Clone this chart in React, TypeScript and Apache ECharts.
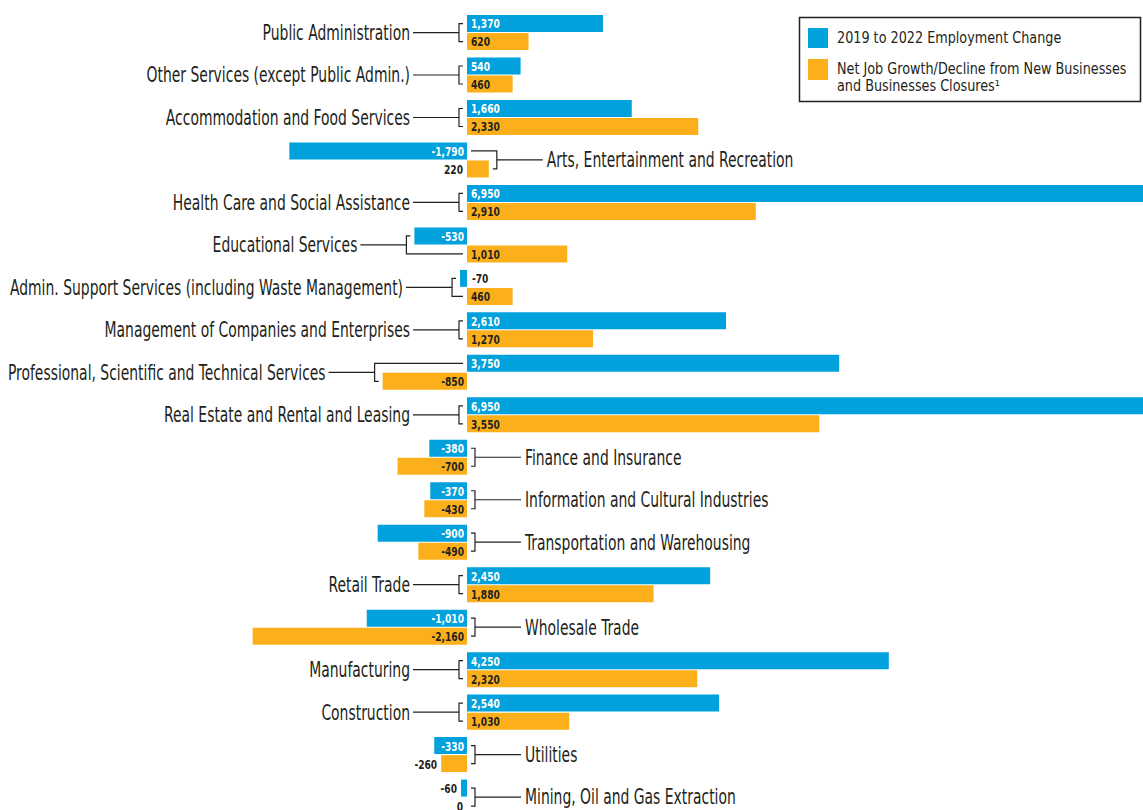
import React, { useEffect, useRef } from 'react';
import * as echarts from 'echarts';

const categories = [
  'Public Administration',
  'Other Services (except Public Admin.)',
  'Accommodation and Food Services',
  'Arts, Entertainment and Recreation',
  'Health Care and Social Assistance',
  'Educational Services',
  'Admin. Support Services (including Waste Management)',
  'Management of Companies and Enterprises',
  'Professional, Scientific and Technical Services',
  'Real Estate and Rental and Leasing',
  'Finance and Insurance',
  'Information and Cultural Industries',
  'Transportation and Warehousing',
  'Retail Trade',
  'Wholesale Trade',
  'Manufacturing',
  'Construction',
  'Utilities',
  'Mining, Oil and Gas Extraction',
];

const employmentChange = [1370, 540, 1660, -1790, 6950, -530, -70, 2610, 3750, 6950, -380, -370, -900, 2450, -1010, 4250, 2540, -330, -60];
const netJobGrowth = [620, 460, 2330, 220, 2910, 1010, 460, 1270, -850, 3550, -700, -430, -490, 1880, -2160, 2320, 1030, -260, 0];

const seriesNames = [
  '2019 to 2022 Employment Change',
  'Net Job Growth/Decline from New Businesses and Businesses Closures¹',
];
const legendLines = [
  ['2019 to 2022 Employment Change'],
  ['Net Job Growth/Decline from New Businesses', 'and Businesses Closures¹'],
];

const BLUE = '#00a1dc';
const ORANGE = '#fbb01b';
const INK = '#231f20';
const FONT = "'Liberation Sans Narrow', 'DejaVu Sans Condensed', 'Liberation Sans', sans-serif";
const LABEL_SIZE = 21;
const LABEL_SCALE = 0.737;
const VALUE_SIZE = 13;
const VALUE_SCALE = 0.78;
const LEGEND_SIZE = 16;
const LEGEND_SCALE = 0.89;

const fmt = (v: number) => v.toLocaleString('en-US');

export default function App() {
  const ref = useRef<HTMLDivElement>(null);
  useEffect(() => {
    if (!ref.current) return;
    const chart = echarts.init(ref.current, undefined, { renderer: 'svg' });

    const renderItem = (params: any, api: any) => {
      const i = api.value(0);
      const b = api.value(1);
      const o = api.value(2);
      const p0 = api.coord([0, i]);
      const x0 = p0[0];
      const yc = p0[1];
      const xb = api.coord([b, i])[0];
      const xo = api.coord([o, i])[0];
      const yb = yc - 9;
      const yo = yc + 9;
      const right = b + o < 0;
      const children: any[] = [];
      const lineStyle = { stroke: INK, lineWidth: 1.2, fill: null };

      if (!right) {
        const bx = Math.min(x0, xb, xo) - 8;
        const tb = Math.max(Math.min(x0, xb) - 4, bx + 3);
        const to = Math.max(Math.min(x0, xo) - 4, bx + 3);
        children.push({ type: 'polyline', shape: { points: [[tb, yb], [bx, yb], [bx, yo], [to, yo]] }, style: lineStyle });
        children.push({ type: 'line', shape: { x1: bx - 46, y1: yc, x2: bx, y2: yc }, style: lineStyle });
        children.push({
          type: 'text', x: bx - 49, y: yc, scaleX: LABEL_SCALE, scaleY: 1,
          style: { text: categories[i], x: 0, y: 0, fill: INK, fontSize: LABEL_SIZE, fontFamily: FONT, align: 'right', verticalAlign: 'middle' },
        });
      } else {
        const bx = Math.max(x0, xb, xo) + 8;
        const tb = Math.min(Math.max(x0, xb) + 4, bx - 3);
        const to = Math.min(Math.max(x0, xo) + 4, bx - 3);
        children.push({ type: 'polyline', shape: { points: [[tb, yb], [bx, yb], [bx, yo], [to, yo]] }, style: lineStyle });
        children.push({ type: 'line', shape: { x1: bx, y1: yc, x2: bx + 46, y2: yc }, style: lineStyle });
        children.push({
          type: 'text', x: bx + 50, y: yc, scaleX: LABEL_SCALE, scaleY: 1,
          style: { text: categories[i], x: 0, y: 0, fill: INK, fontSize: LABEL_SIZE, fontFamily: FONT, align: 'left', verticalAlign: 'middle' },
        });
      }

      const valueLabel = (v: number, xe: number, y: number, isBlue: boolean) => {
        const w = Math.abs(xe - x0);
        let x: number;
        let align: string;
        let fill = INK;
        if (w >= 30) {
          if (v >= 0) { x = x0 + 4; align = 'left'; } else { x = x0 - 3; align = 'right'; }
          fill = isBlue ? '#ffffff' : INK;
        } else if (right) {
          x = Math.min(x0, xe) - 4; align = 'right';
        } else {
          x = Math.max(x0, xe) + 5; align = 'left';
        }
        return {
          type: 'text', x, y: y + 0.5, scaleX: VALUE_SCALE, scaleY: 1,
          style: { text: fmt(v), x: 0, y: 0, fill, fontSize: VALUE_SIZE, fontWeight: 'bold', fontFamily: FONT, align, verticalAlign: 'middle' },
        };
      };
      children.push(valueLabel(b, xb, yb, true));
      children.push(valueLabel(o, xo, yo, false));
      return { type: 'group', children };
    };

    const legendGraphic: any[] = [
      { type: 'rect', shape: { x: 799.5, y: 17.5, width: 341, height: 84 }, style: { fill: '#fff', stroke: INK, lineWidth: 1.5 } },
      { type: 'rect', shape: { x: 808, y: 28, width: 20, height: 20 }, style: { fill: BLUE } },
      { type: 'rect', shape: { x: 808, y: 59, width: 20, height: 21 }, style: { fill: ORANGE } },
      {
        type: 'text', x: 837, y: 38, scaleX: LEGEND_SCALE, scaleY: 1,
        style: { text: legendLines[0].join('\n'), fill: INK, fontSize: LEGEND_SIZE, fontFamily: FONT, align: 'left', verticalAlign: 'middle' },
      },
      {
        type: 'text', x: 837, y: 60, scaleX: LEGEND_SCALE, scaleY: 1,
        style: { text: legendLines[1].join('\n'), fill: INK, fontSize: LEGEND_SIZE, lineHeight: 17, fontFamily: FONT, align: 'left', verticalAlign: 'top' },
      },
    ];

    chart.setOption({
      animation: false,
      backgroundColor: '#ffffff',
      grid: { left: 70, top: 11.3, width: 1091.75, height: 807 },
      xAxis: { type: 'value', min: -4000, max: 7000, show: false },
      yAxis: { type: 'category', data: categories, inverse: true, show: false },
      graphic: legendGraphic,
      series: [
        {
          name: seriesNames[0], type: 'bar', data: employmentChange, barWidth: 17, barGap: '6%',
          itemStyle: { color: BLUE },
        },
        {
          name: seriesNames[1], type: 'bar', data: netJobGrowth, barWidth: 17, barGap: '6%',
          itemStyle: { color: ORANGE },
        },
        {
          type: 'custom', renderItem, z: 5,
          encode: { y: 0, x: [1, 2] },
          data: categories.map((_, i) => [i, employmentChange[i], netJobGrowth[i]]),
        },
      ],
    });
    return () => chart.dispose();
  }, []);
  return (
    <div style={{ position: 'absolute', left: 0, top: 0, width: 1143, height: 810, overflow: 'hidden', background: '#fff' }}>
      <div ref={ref} style={{ position: 'absolute', left: 0, top: 0, width: 1180, height: 830 }} />
    </div>
  );
}
